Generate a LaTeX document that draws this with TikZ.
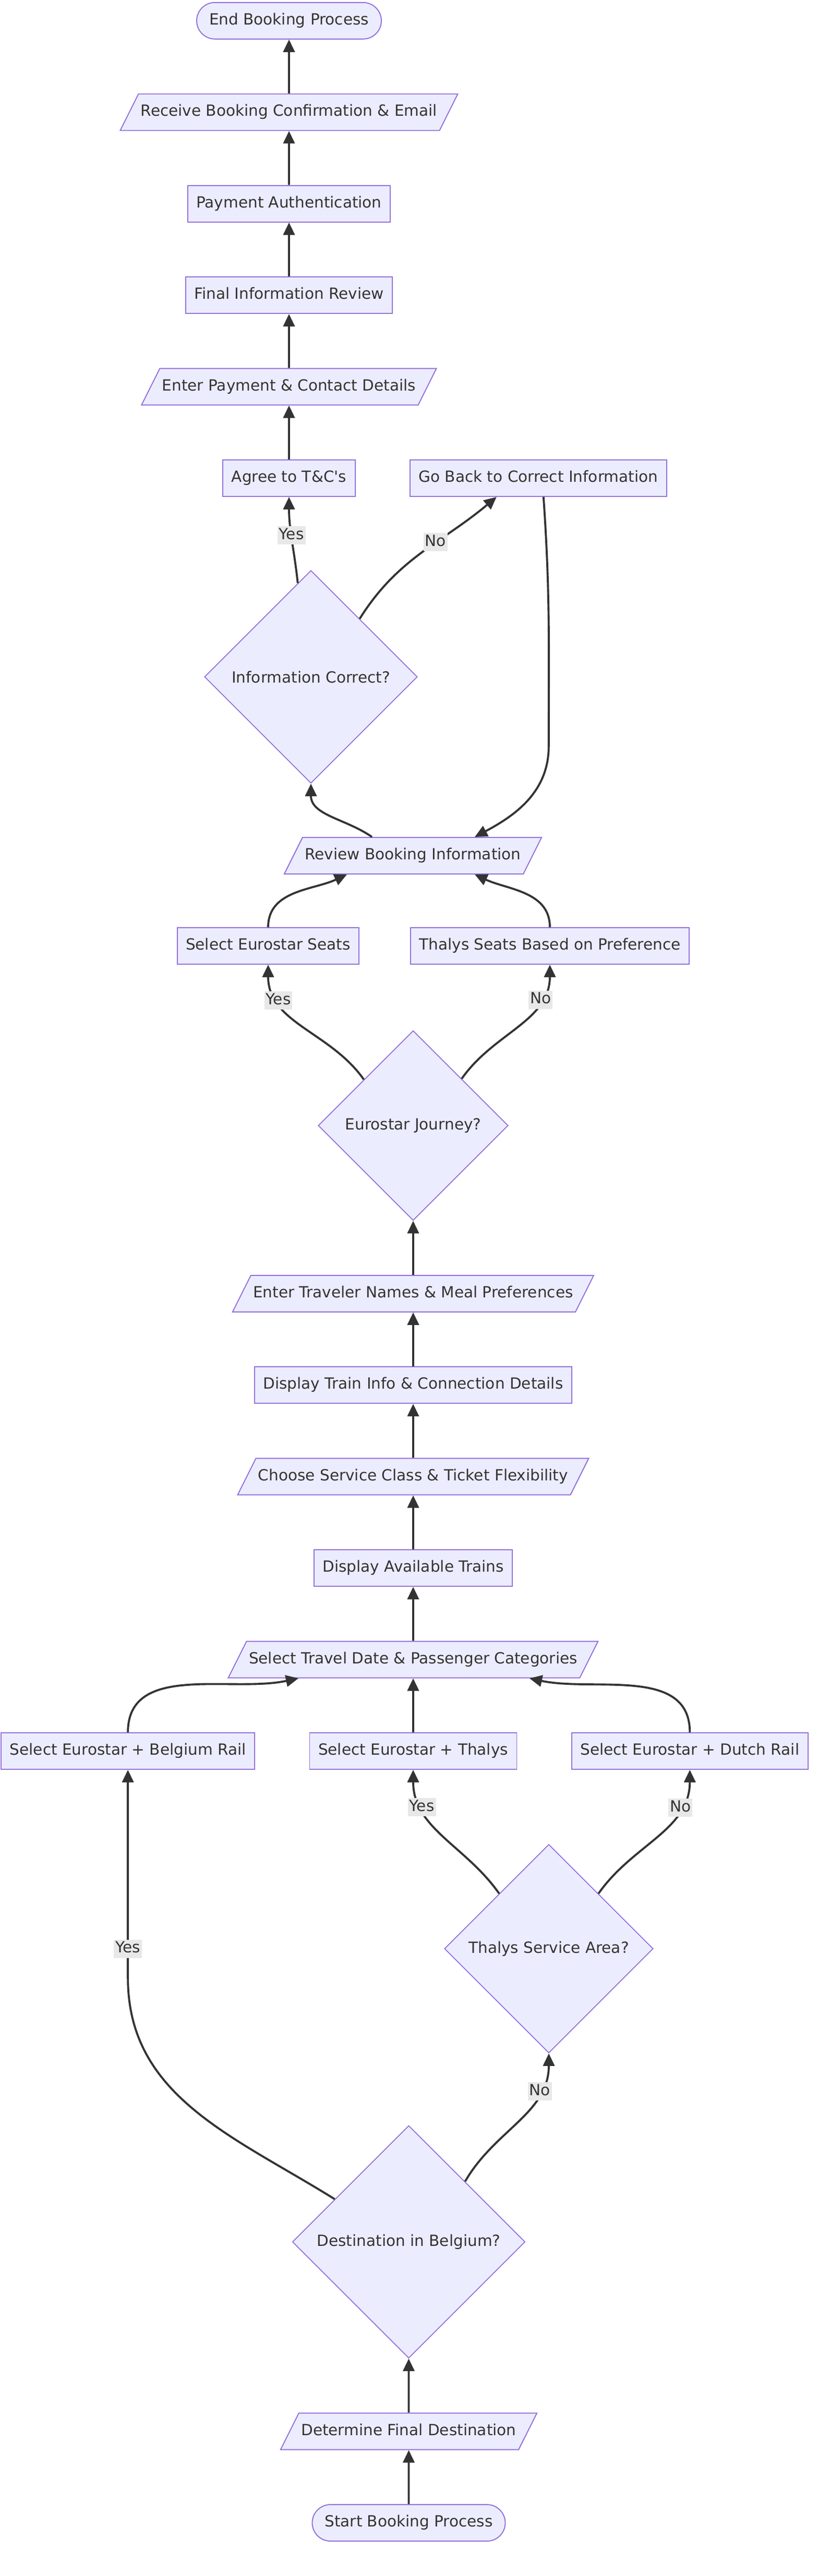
\documentclass[tikz,border=0pt]{standalone}
\usepackage{fontspec}
\newfontfamily\flowfont{DejaVu Sans}
\usetikzlibrary{positioning, shapes.geometric, arrows.meta}
\definecolor{nodefill}{HTML}{ECECFF}
\definecolor{nodeline}{HTML}{9370DB}
\definecolor{ink}{HTML}{333333}
\definecolor{lblfill}{HTML}{E8E8E8}

\begin{document}
\begin{tikzpicture}[node distance=10.35mm, >={Triangle[length=2.4mm, width=2.2mm]},
	every node/.style={font=\flowfont\fontsize{8.4}{10}\selectfont, text=ink},
	n/.style={draw=nodeline, fill=nodefill, line width=0.55pt, text height=2.1mm, text depth=0.6mm, inner ysep=2.15mm},
	b/.style={n, rectangle, inner xsep=1.65mm},
	r/.style={n, rectangle, rounded corners=3.5mm, inner xsep=2.4mm},
	p/.style={n, trapezium, trapezium left angle=63.43, trapezium right angle=116.57, inner xsep=0.45mm},
	d/.style={draw=nodeline, fill=nodefill, line width=0.5pt, diamond, inner sep=0pt},
	l/.style={fill=lblfill, inner xsep=0.3mm, inner ysep=0.4mm, text height=2.1mm, text depth=0.6mm},
	e/.style={->, color=ink, line width=1.1pt}]
	\useasboundingbox (0,0) rectangle (15.68,-49.40);

	\node[r] (st) at (7.835,-48.38) {Start Booking Process};
	\node[p, above=of st] (fd) {Determine Final Destination};
	\node[d, minimum size=44.6mm, above=of fd] (bel) {Destination in Belgium?};
	\node[d, minimum size=40mm] (tha) at (10.52,-37.37) {Thalys Service Area?};
	\node[b] (et) at (7.92,-33.58) {Select Eurostar + Thalys};
	\node[b, left=of et] (eb) {Select Eurostar + Belgium Rail};
	\node[b, right=of et] (ed) {Select Eurostar + Dutch Rail};
	\node[p, above=of et] (dt) {Select Travel Date \& Passenger Categories};
	\node[b, above=of dt] (tr) {Display Available Trains};
	\node[p, above=of tr] (cl) {Choose Service Class \& Ticket Flexibility};
	\node[b, above=of cl] (ti) {Display Train Info \& Connection Details};
	\node[p, above=of ti] (tn) {Enter Traveler Names \& Meal Preferences};
	\node[d, minimum size=36.4mm, above=of tn] (ej) {Eurostar Journey?};
	\node[b] (es) at (5.14,-18.14) {Select Eurostar Seats};
	\node[b] (ts) at (10.54,-18.14) {Thalys Seats Based on Preference};
	\node[p] (rv) at (7.915,-16.41) {Review Booking Information};
	\node[d, minimum size=40.8mm] (ic) at (5.96,-12.98) {Information Correct?};
	\node[b] (ag) at (5.54,-9.17) {Agree to T\&C's};
	\node[b, right=of ag] (gb) {Go Back to Correct Information};
	\node[p, above=of ag] (pc) {Enter Payment \& Contact Details};
	\node[b, above=of pc] (fr) {Final Information Review};
	\node[b, above=of fr] (pa) {Payment Authentication};
	\node[p, above=of pa] (rc) {Receive Booking Confirmation \& Email};
	\node[r, above=of rc] (en) {End Booking Process};

	\path[e] (st) edge (fd);
	\path[e] (fd) edge (bel);
	\draw[e] (bel.150) to[out=148, in=-90] (eb.south |- 0,-37.93) -- node[l, pos=0.14] {Yes} (eb.south);
	\path[e] (bel.47) edge[out=60, in=-90] node[l, pos=0.75] {No} (tha.south);
	\path[e] (tha.132) edge[out=125, in=-90] node[l, pos=0.75] {Yes} (et.south);
	\path[e] (tha.48) edge[out=55, in=-90] node[l, pos=0.75] {No} (ed.south);
	\path[e] (eb.north) edge[out=90, in=-168] ([xshift=-22mm]dt.south);
	\path[e] (et) edge (dt);
	\path[e] (ed.north) edge[out=90, in=-12] ([xshift=22.3mm]dt.south);
	\path[e] (dt) edge (tr);
	\path[e] (tr) edge (cl);
	\path[e] (cl) edge (ti);
	\path[e] (ti) edge (tn);
	\path[e] (tn) edge (ej);
	\path[e] (ej.137) edge[out=125, in=-90] node[l, pos=0.75] {Yes} (es.south);
	\path[e] (ej.44) edge[out=55, in=-90] node[l, pos=0.75] {No} (ts.south);
	\path[e] (es.north) edge[out=90, in=-155] ([xshift=-12.65mm]rv.south);
	\path[e] (ts.north) edge[out=90, in=-25] ([xshift=11.85mm]rv.south);
	\path[e] ([xshift=-7.85mm]rv.north) edge[out=145, in=-90] (ic.south);
	\path[e] (ic.98) edge[out=96, in=-90] node[l, pos=0.56] {Yes} (ag.south);
	\path[e] (ic.50) edge[out=58, in=-140] node[l, pos=0.6] {No} ([xshift=-8mm]gb.south);
	\draw[e] ([xshift=1mm]gb.south) to[out=-86, in=90] ([shift={(2mm,-47.8mm)}]gb.south) to[out=-90, in=28] ([xshift=11.85mm]rv.north);
	\path[e] (ag) edge (pc);
	\path[e] (pc) edge (fr);
	\path[e] (fr) edge (pa);
	\path[e] (pa) edge (rc);
	\path[e] (rc) edge (en);
\end{tikzpicture}
\end{document}
